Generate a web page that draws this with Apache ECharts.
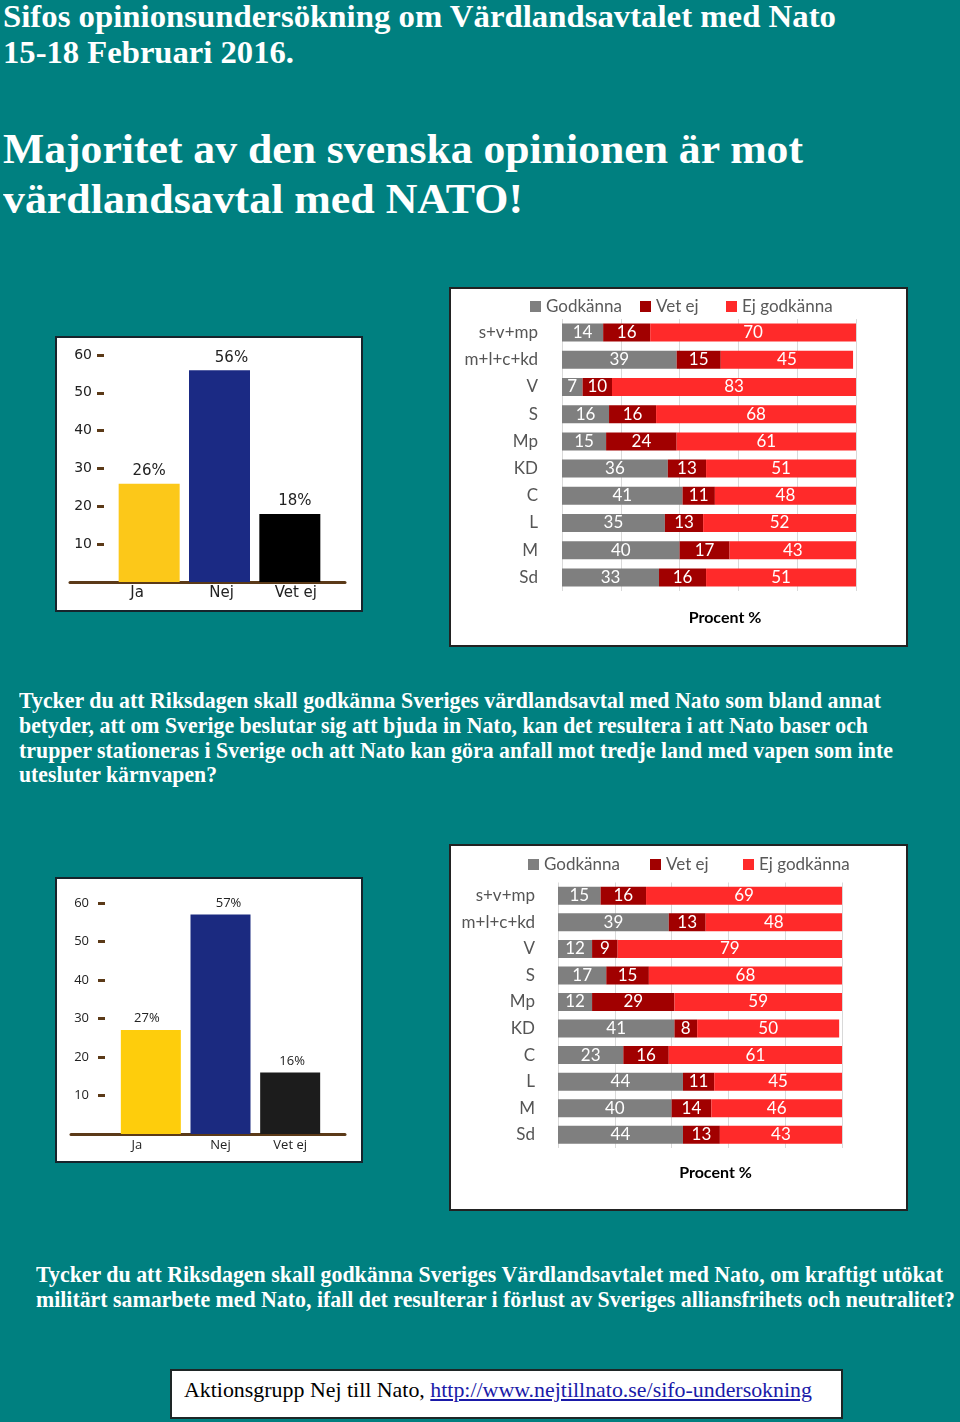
<!DOCTYPE html>
<html>
<head>
<meta charset="utf-8">
<script src="https://cdn.jsdelivr.net/npm/echarts/dist/echarts.min.js"></script>
<style>
  html, body { margin: 0; padding: 0; }
  body { width: 960px; height: 1422px; background: #008080; position: relative; overflow: hidden; }
  .fit { position: absolute; white-space: nowrap; transform-origin: 0 0; color: #fff;
         font-family: "Liberation Serif", "Times New Roman", serif; font-weight: bold; line-height: 1; }
  .box { position: absolute; background: #fff; box-sizing: border-box; }
  .chart { position: absolute; left: 0; top: 0; right: 0; bottom: 0; }
  #footer { position: absolute; left: 170px; top: 1369px; width: 673px; height: 50px; background: #fff;
            box-sizing: border-box; border: 2px solid #1e2626; }
  #footer .fit { color: #000; font-weight: normal; }
  #footer a { color: #1a1aa8; text-decoration: underline; }
</style>
</head>
<body>

<div class="fit" data-w="833" style="left:3px;top:1px;font-size:31px;">Sifos opinionsundersökning om Värdlandsavtalet med Nato</div>
<div class="fit" data-w="291" style="left:3px;top:37px;font-size:31px;">15-18 Februari 2016.</div>

<div class="fit" data-w="800" style="left:3px;top:127px;font-size:43px;">Majoritet av den svenska opinionen är mot</div>
<div class="fit" data-w="520" style="left:3px;top:177px;font-size:43px;">värdlandsavtal med NATO!</div>

<div class="box" style="left:55px;top:336px;width:308px;height:276px;border:2px solid #17242c;"><div class="chart" id="barTop"></div></div>
<div class="box" style="left:449px;top:287px;width:459px;height:360px;border:2px solid #222;"><div class="chart" id="stackTop"></div></div>

<div class="fit" data-w="862" style="left:19px;top:689px;font-size:23px;">Tycker du att Riksdagen skall godkänna Sveriges värdlandsavtal med Nato som bland annat</div>
<div class="fit" data-w="849" style="left:19px;top:714px;font-size:23px;">betyder, att om Sverige beslutar sig att bjuda in Nato, kan det resultera i att Nato baser och</div>
<div class="fit" data-w="874" style="left:19px;top:739px;font-size:23px;">trupper stationeras i Sverige och att Nato kan göra anfall mot tredje land med vapen som inte</div>
<div class="fit" data-w="198" style="left:19px;top:763px;font-size:23px;">utesluter kärnvapen?</div>

<div class="box" style="left:55px;top:877px;width:308px;height:286px;border:2px solid #17242c;"><div class="chart" id="barBottom"></div></div>
<div class="box" style="left:449px;top:844px;width:459px;height:367px;border:2px solid #222;"><div class="chart" id="stackBottom"></div></div>

<div class="fit" data-w="907" style="left:36px;top:1263px;font-size:23px;">Tycker du att Riksdagen skall godkänna Sveriges Värdlandsavtalet med Nato, om kraftigt utökat</div>
<div class="fit" data-w="919" style="left:36px;top:1288px;font-size:23px;">militärt samarbete med Nato, ifall det resulterar i förlust av Sveriges alliansfrihets och neutralitet?</div>

<div id="footer"><div class="fit" data-w="628" style="left:12px;top:9px;font-size:21px;">Aktionsgrupp Nej till Nato, <a href="http://www.nejtillnato.se/sifo-undersokning">http://www.nejtillnato.se/sifo-undersokning</a></div></div>

<script>
// ---------- data ----------
const answers = ['Ja', 'Nej', 'Vet ej'];
const q1Answers = [26, 56, 18];
const q2Answers = [27, 57, 16];

const parties = ['s+v+mp', 'm+l+c+kd', 'V', 'S', 'Mp', 'KD', 'C', 'L', 'M', 'Sd'];
const segmentNames = ['Godkänna', 'Vet ej', 'Ej godkänna'];

const q1Godkanna   = [14, 39, 7, 16, 15, 36, 41, 35, 40, 33];
const q1VetEj      = [16, 15, 10, 16, 24, 13, 11, 13, 17, 16];
const q1EjGodkanna = [70, 45, 83, 68, 61, 51, 48, 52, 43, 51];

const q2Godkanna   = [15, 39, 12, 17, 12, 41, 23, 44, 40, 44];
const q2VetEj      = [16, 13, 9, 15, 29, 8, 16, 11, 14, 13];
const q2EjGodkanna = [69, 48, 79, 68, 59, 50, 61, 45, 46, 43];

// ---------- fit headline text ----------
document.querySelectorAll('.fit').forEach(el => {
  const w = +el.dataset.w;
  const nat = el.getBoundingClientRect().width;
  if (nat > 0) el.style.transform = 'scaleX(' + (w / nat) + ')';
});

// ---------- simple bar charts ----------
const brown = '#5b3a18';
function barOption(values, cfg) {
  return {
    animation: false,
    grid: [
      { left: cfg.left, right: cfg.right, top: cfg.top, bottom: cfg.bottom },
      { left: cfg.lineLeft, right: cfg.lineRight, top: cfg.top, bottom: cfg.bottom }
    ],
    xAxis: [
      {
        type: 'category', gridIndex: 0,
        data: answers.map((a, i) => ({ value: a, textStyle: { padding: cfg.catPad[i] } })),
        axisLine: { show: false }, axisTick: { show: false },
        axisLabel: { margin: cfg.catMargin, fontFamily: cfg.font, fontSize: cfg.catSize, color: '#222' }
      },
      {
        type: 'value', gridIndex: 1, min: 0, max: 1,
        axisLine: { show: true, lineStyle: { color: brown, width: 3 } },
        axisTick: { show: false }, axisLabel: { show: false }, splitLine: { show: false }
      }
    ],
    yAxis: [
      {
        type: 'value', gridIndex: 0, min: 0, max: 60, interval: 10, offset: cfg.yOffset,
        axisLine: { show: false },
        axisTick: { show: true, length: 7, lineStyle: { color: brown, width: 3 } },
        axisLabel: { margin: cfg.yMargin, showMinLabel: false, fontFamily: cfg.font, fontSize: cfg.ySize, color: '#222' },
        splitLine: { show: false }
      },
      { type: 'value', gridIndex: 1, show: false }
    ],
    series: [{
      type: 'bar', xAxisIndex: 0, yAxisIndex: 0, barWidth: cfg.barWidth,
      data: values.map((v, i) => ({ value: v, itemStyle: { color: cfg.colors[i] }, label: { offset: cfg.labelOffset[i] } })),
      label: { show: true, position: 'top', distance: 5, formatter: '{c}%',
               fontFamily: cfg.font, fontSize: cfg.valSize, color: '#222' }
    }]
  };
}

echarts.init(document.getElementById('barTop')).setOption(barOption(q1Answers, {
  left: 57, right: 36, top: 17, bottom: 28, lineLeft: 13, lineRight: 16,
  yOffset: 10, yMargin: 12, catMargin: 4, barWidth: 61,
  font: '"DejaVu Sans", Verdana, sans-serif', ySize: 14, catSize: 15, valSize: 15,
  colors: ['#fcc819', '#1b2a84', '#000000'],
  catPad: [[0, 24, 0, 0], [0, 0, 0, 4], [0, 0, 0, 12]],
  labelOffset: [[0, 0], [12, 0], [5, 0]]
}));

echarts.init(document.getElementById('barBottom')).setOption(barOption(q2Answers, {
  left: 59, right: 36, top: 24, bottom: 27, lineLeft: 14, lineRight: 16,
  yOffset: 11, yMargin: 16, catMargin: 5, barWidth: 60,
  font: '"Open Sans", sans-serif', ySize: 13, catSize: 13, valSize: 13,
  colors: ['#fecd0c', '#1b2a80', '#1c1c1c'],
  catPad: [[0, 28, 0, 0], [0, 0, 0, 0], [0, 0, 0, 0]],
  labelOffset: [[-4, 0], [8, 0], [2, 0]]
}));

// ---------- stacked horizontal bars ----------
const segColors = ['#7f7f7f', '#a10000', '#ff2a2a'];
function stackOption(series3, cfg) {
  return {
    animation: false,
    legend: segmentNames.map((n, i) => ({
      data: [n], left: cfg.legendLeft[i], top: cfg.legendTop, padding: 0,
      itemWidth: 11, itemHeight: 11, icon: 'rect',
      textStyle: { fontFamily: 'Lato, sans-serif', fontSize: 17, color: '#595959' }
    })),
    grid: { left: cfg.left, right: cfg.right, top: cfg.top, bottom: cfg.bottom },
    xAxis: {
      type: 'value', min: 0, max: 100, interval: 20,
      axisLine: { show: false }, axisTick: { show: false }, axisLabel: { show: false },
      splitLine: { show: true, lineStyle: { color: '#d9d9d9', width: 1 } },
      name: 'Procent %', nameLocation: 'middle', nameGap: cfg.nameGap,
      nameTextStyle: { fontFamily: 'Lato, sans-serif', fontSize: 16, fontWeight: 'bold', color: '#000',
                       padding: [0, 0, 0, cfg.namePad] }
    },
    yAxis: {
      type: 'category', data: parties, inverse: true,
      axisLine: { show: false }, axisTick: { show: false },
      axisLabel: { margin: cfg.catMargin, fontFamily: 'Lato, sans-serif', fontSize: 17, color: '#555' }
    },
    series: series3.map((d, i) => ({
      name: segmentNames[i], type: 'bar', stack: 'total', barWidth: 18, data: d,
      itemStyle: { color: segColors[i] },
      label: { show: true, position: 'inside', color: '#fff', fontFamily: 'Lato, sans-serif', fontSize: 17 }
    }))
  };
}

echarts.init(document.getElementById('stackTop')).setOption(stackOption(
  [q1Godkanna, q1VetEj, q1EjGodkanna], {
    left: 111, right: 50, top: 30, bottom: 54, catMargin: 24, nameGap: 19, namePad: 32,
    legendLeft: [79, 189, 275], legendTop: 9
  }));

echarts.init(document.getElementById('stackBottom')).setOption(stackOption(
  [q2Godkanna, q2VetEj, q2EjGodkanna], {
    left: 107, right: 64, top: 36.5, bottom: 61, catMargin: 23, nameGap: 17, namePad: 31,
    legendLeft: [77, 199, 292], legendTop: 10
  }));
</script>
</body>
</html>
